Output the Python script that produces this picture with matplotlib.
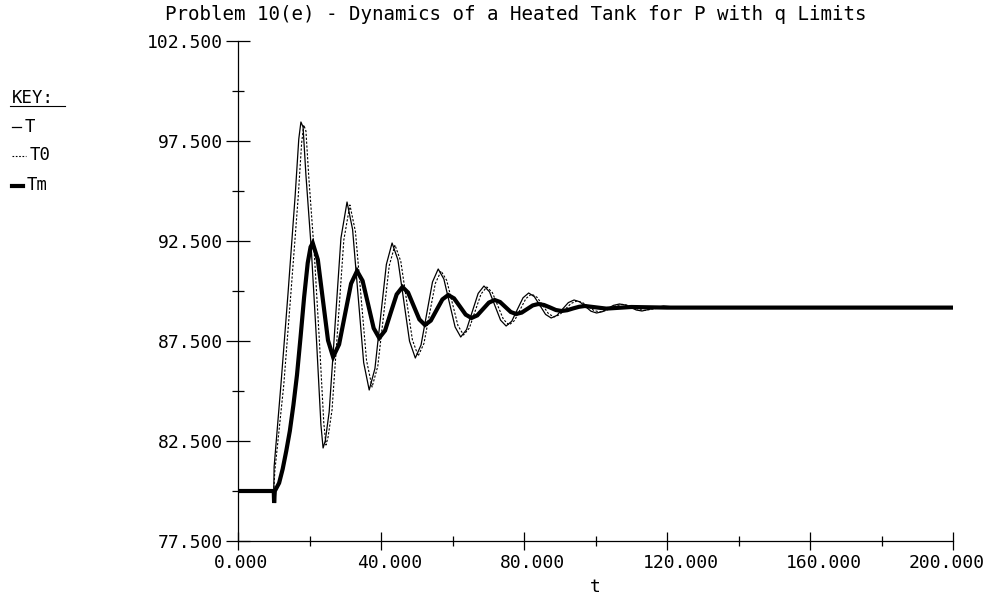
import matplotlib
matplotlib.use("Agg")
import matplotlib.pyplot as plt
from matplotlib.lines import Line2D
from matplotlib.ticker import MultipleLocator, FormatStrFormatter
from matplotlib.transforms import offset_copy

plt.rcParams['font.family'] = ['DejaVu Sans Mono']

title = "Problem 10(e) - Dynamics of a Heated Tank for P with q Limits"

# T : tank temperature (thin solid)
t_T = [0, 10.0, 10.1, 12, 14, 16, 17, 17.6, 18.2, 19,
       20.5, 22, 23.2, 23.8, 24.4, 25.5, 27.15, 28.8, 30.5, 32.05,
       33.6, 35.15, 36.7, 38.3, 39.9, 41.5, 43.1, 44.73, 46.35, 47.98,
       49.6, 51.2, 52.8, 54.4, 56.0, 57.58, 59.15, 60.73, 62.3, 63.93,
       65.55, 67.18, 68.8, 70.35, 71.9, 73.45, 75.0, 76.58, 78.15, 79.73,
       81.3, 82.88, 84.45, 86.03, 87.6, 89.2, 90.8, 92.4, 94.0, 95.58,
       97.15, 98.73, 100.3, 102, 103.5, 105, 106.7, 108.3, 109.9, 111.4,
       113, 119, 125, 130, 200]
T = [80, 80, 81.2, 85.3, 89.9, 94.8, 97.6, 98.45, 98.2, 95.8,
     92.1, 87.4, 83.3, 82.15, 82.5, 83.95, 88.3, 92.65, 94.45, 93.08,
     89.75, 86.42, 85.05, 86.12, 88.73, 91.33, 92.4, 91.56, 89.53, 87.49,
     86.65, 87.30, 88.88, 90.45, 91.1, 90.60, 89.40, 88.20, 87.7, 88.07,
     88.98, 89.88, 90.25, 89.96, 89.25, 88.54, 88.25, 88.49, 89.08, 89.66,
     89.9, 89.72, 89.28, 88.83, 88.65, 88.78, 89.10, 89.42, 89.55, 89.46,
     89.23, 88.99, 88.9, 88.97, 89.13, 89.28, 89.35, 89.30, 89.18, 89.05,
     89.0, 89.25, 89.15, 89.17, 89.17]

# T0 (thin dotted)
t_T0 = [0, 10.0, 10.3, 12.8, 14.8, 16.8, 17.8, 18.4, 19.0, 19.8,
        21.3, 22.8, 24.0, 24.6, 25.2, 26.3, 27.95, 29.6, 31.3, 32.85,
        34.4, 35.95, 37.5, 39.1, 40.7, 42.3, 43.9, 45.53, 47.15, 48.78,
        50.4, 52.0, 53.6, 55.2, 56.8, 58.38, 59.95, 61.53, 63.1, 64.73,
        66.35, 67.98, 69.6, 71.15, 72.7, 74.25, 75.8, 77.38, 78.95, 80.53,
        82.1, 83.68, 85.25, 86.83, 88.4, 90.0, 91.6, 93.2, 94.8, 96.38,
        97.95, 99.53, 101.1, 102.7, 104.3, 105.9, 107.5, 109.1, 110.65, 112.2,
        113.8, 120, 126, 130, 200]
T0 = [80, 80, 81.0, 85.3, 89.9, 94.6, 97.4, 98.3, 98.0, 95.7,
      92.0, 87.4, 83.4, 82.3, 82.7, 84.05, 88.3, 92.55, 94.3, 92.97,
      89.75, 86.53, 85.2, 86.24, 88.75, 91.26, 92.3, 91.49, 89.53, 87.56,
      86.75, 87.37, 88.88, 90.38, 91.0, 90.53, 89.4, 88.27, 87.8, 88.15,
      89.0, 89.85, 90.2, 89.92, 89.25, 88.58, 88.3, 88.53, 89.08, 89.62,
      89.85, 89.68, 89.28, 88.87, 88.7, 88.82, 89.1, 89.38, 89.5, 89.42,
      89.23, 89.03, 88.95, 89.01, 89.14, 89.27, 89.33, 89.29, 89.18, 89.07,
      89.03, 89.22, 89.16, 89.17, 89.17]

# Tm : measured temperature (thick)
t_Tm = [0, 10.0, 10.1, 10.3, 11.5, 12.5, 13.5, 14.5, 15.5, 16.5,
        17.5, 18.5, 19.5, 20.3, 20.9, 22.33, 23.75, 25.18, 26.6, 28.28,
        29.95, 31.63, 33.3, 34.85, 36.4, 37.95, 39.5, 41.13, 42.75, 44.38,
        46.0, 47.58, 49.15, 50.73, 52.3, 53.93, 55.55, 57.18, 58.8, 60.43,
        62.05, 63.68, 65.3, 66.93, 68.55, 70.18, 71.8, 73.3, 74.8, 76.3,
        77.8, 79.35, 80.9, 82.45, 84.0, 85.6, 87.25, 88.9, 90.5, 92.1,
        93.75, 95.4, 97.0, 103, 110, 120, 200]
Tm = [80, 80, 79.4, 80.0, 80.4, 81.1, 82.0, 83.0, 84.3, 85.8,
      87.7, 89.7, 91.4, 92.2, 92.4, 91.57, 89.55, 87.53, 86.7, 87.33,
      88.85, 90.37, 91.0, 90.51, 89.33, 88.14, 87.65, 88.02, 88.93, 89.83,
      90.2, 89.92, 89.25, 88.58, 88.3, 88.52, 89.05, 89.58, 89.8, 89.63,
      89.23, 88.82, 88.65, 88.78, 89.10, 89.42, 89.55, 89.45, 89.2, 88.95,
      88.85, 88.92, 89.1, 89.28, 89.35, 89.3, 89.18, 89.05, 89.0, 89.04,
      89.13, 89.21, 89.25, 89.12, 89.2, 89.17, 89.17]

xticks = [0, 40, 80, 120, 160, 200]
xlabels = ["0.000", "40.000", "80.000", "120.000", "160.000", "200.000"]

fig = plt.figure(figsize=(10, 5.99), dpi=100)
ax = fig.add_axes([0.238, 58 / 599, 0.715, 500 / 599])

ax.plot(t_T0, T0, color='black', lw=0.8, ls=(0, (2, 1.5)))
ax.plot(t_T, T, color='black', lw=0.9)
ax.plot(t_Tm, Tm, color='black', lw=3.0, solid_joinstyle='miter')

ax.set_xlim(0, 200)
ax.set_ylim(77.5, 102.5)
for s in ['top', 'right']:
    ax.spines[s].set_visible(False)
for s in ['left', 'bottom']:
    ax.spines[s].set_linewidth(0.9)

ax.yaxis.set_minor_locator(MultipleLocator(2.5))
ax.yaxis.set_major_formatter(FormatStrFormatter('%.3f'))
ax.set_yticks([77.5, 82.5, 87.5, 92.5, 97.5, 102.5])
ax.tick_params(axis='y', which='major', direction='inout', length=17, width=0.9,
               labelsize=13, pad=2)
ax.tick_params(axis='y', which='minor', direction='inout', length=8, width=0.9)

ax.set_xticks(xticks)
ax.xaxis.set_minor_locator(MultipleLocator(20))
ax.tick_params(axis='x', which='major', direction='inout', length=13, width=0.9,
               labelbottom=False)
ax.tick_params(axis='x', which='minor', direction='inout', length=6.5, width=0.9)

# x labels start two characters left of the tick, like the original plotter;
# the last one is pulled in so it stays inside the picture
for xv, lab in zip(xticks, xlabels):
    dx = -24 if xv < 200 else -44
    ax.text(xv, 0, lab, fontsize=13, ha='left', va='top', clip_on=False,
            transform=offset_copy(ax.get_xaxis_transform(), fig=fig,
                                  x=dx, y=-13, units='dots'))

ax.set_xlabel("t", fontsize=13, labelpad=20)

fig.text(0.165, 1 - 14 / 599, title, fontsize=13.8, ha='left', va='center')

# key
fig.text(0.012, 1 - 98 / 599, "KEY:", fontsize=12.5, ha='left', va='center')
fig.add_artist(Line2D([0.010, 0.065], [1 - 106 / 599] * 2, color='black', lw=0.8))
fig.add_artist(Line2D([0.012, 0.021], [1 - 127 / 599] * 2, color='black', lw=0.9))
fig.text(0.025, 1 - 127 / 599, "T", fontsize=12.5, ha='left', va='center')
fig.add_artist(Line2D([0.012, 0.026], [1 - 156 / 599] * 2, color='black', lw=0.8,
                      ls=(0, (1.5, 1.5))))
fig.text(0.030, 1 - 155 / 599, "T0", fontsize=12.5, ha='left', va='center')
fig.add_artist(Line2D([0.012, 0.023], [1 - 186 / 599] * 2, color='black', lw=3.0))
fig.text(0.027, 1 - 185 / 599, "Tm", fontsize=12.5, ha='left', va='center')

fig.savefig("out.png", dpi=100)
